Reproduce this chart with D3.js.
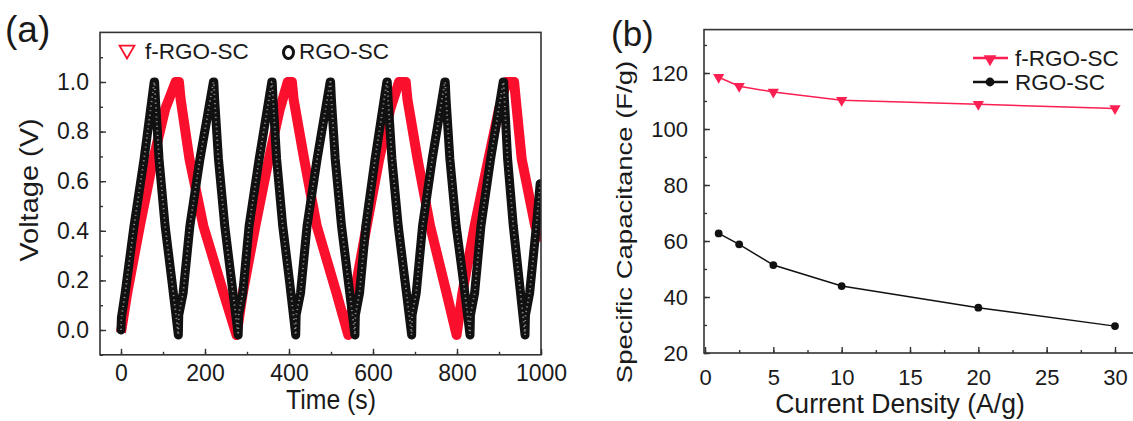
<!DOCTYPE html>
<html>
<head>
<meta charset="utf-8">
<script src="https://cdn.jsdelivr.net/npm/d3@7"></script>
<style>
  body { margin: 0; background: #fff; }
  text { font-family: "Liberation Sans", Arial, sans-serif; fill: #1a1a1a; }
</style>
</head>
<body>
<svg id="fig" width="1133" height="421"></svg>
<script>
// (a) galvanostatic charge/discharge, vertices
var rgoTime = [0, 1, 10, 31, 55, 79, 80, 82, 90.5, 105, 121, 136.5,
  137.5, 148, 164, 188, 220, 221, 223, 232, 247, 263, 279,
  280, 290, 305, 329, 359, 360, 362, 370.5, 385, 401, 416,
  417, 427.5, 443, 467, 498, 499, 501, 510, 525, 541, 557,
  558, 568, 583, 605, 633, 634, 636, 645, 660, 676, 692,
  693, 703, 718, 741, 771, 772, 774, 783, 798, 815, 831,
  832, 842, 857, 880, 910, 911, 913, 920.5, 934, 948, 962,
  963, 973, 989, 998]
var rgoVolt = [0, 0.05, 0.15, 0.42, 0.69, 1.0, 1.0, 0.93, 0.69, 0.42, 0.2, -0.02,
  0.06, 0.15, 0.42, 0.69, 1.0, 1.0, 0.93, 0.69, 0.42, 0.2, -0.02,
  0.06, 0.15, 0.42, 0.69, 1.0, 1.0, 0.93, 0.69, 0.42, 0.2, -0.02,
  0.06, 0.15, 0.42, 0.69, 1.0, 1.0, 0.93, 0.69, 0.42, 0.2, -0.02,
  0.06, 0.15, 0.42, 0.69, 1.0, 1.0, 0.93, 0.69, 0.42, 0.2, -0.02,
  0.06, 0.15, 0.42, 0.69, 1.0, 1.0, 0.93, 0.69, 0.42, 0.2, -0.02,
  0.06, 0.15, 0.42, 0.69, 1.0, 1.0, 0.93, 0.69, 0.42, 0.2, -0.02,
  0.06, 0.15, 0.42, 0.59]

var frgoTime = [0, 15, 45, 77, 105, 130, 138, 142, 163, 196, 244, 275,
  290, 320, 352, 378, 397, 407, 411, 436, 466, 513, 541,
  556, 585, 615, 641, 662, 678, 682, 706, 736, 775, 799,
  813, 842, 875, 900, 918, 936, 940, 954, 986, 1002]
var frgoVolt = [-0.01, 0.15, 0.42, 0.69, 0.89, 1.0, 1.0, 0.93, 0.69, 0.42, 0.15, -0.02,
  0.15, 0.42, 0.69, 0.89, 1.0, 1.0, 0.93, 0.69, 0.42, 0.15, -0.02,
  0.15, 0.42, 0.69, 0.89, 1.0, 1.0, 0.93, 0.69, 0.42, 0.15, -0.02,
  0.15, 0.42, 0.69, 0.89, 1.0, 1.0, 0.93, 0.69, 0.42, 0.36]

var timeTicks = [0, 200, 400, 600, 800, 1000]
var voltTicks = [0.0, 0.2, 0.4, 0.6, 0.8, 1.0]

// (b) specific capacitance vs current density
var density = [1, 2.5, 5, 10, 20, 30]
var capFRGO = [118.5, 115.3, 113.2, 110.3, 108.8, 107.3]
var capRGO = [62.7, 58.8, 51.4, 43.9, 36.2, 29.6]
var densityTicks = [0, 5, 10, 15, 20, 25, 30]
var capTicks = [20, 40, 60, 80, 100, 120]

var seriesNames = ['f-RGO-SC', 'RGO-SC']

svg = d3.select('#fig')
svg.append('rect').attr('width', 1133).attr('height', 421).attr('fill', '#fff')

function styleAxis(g, size){
  g.select('.domain').remove()
  g.selectAll('line').attr('stroke', '#333').attr('stroke-width', 1.4)
  g.selectAll('text').style('font-size', size + 'px').attr('fill', '#1a1a1a')
}

// ---------- panel (a) ----------
xA = d3.scaleLinear().domain([0, 1000]).range([121, 541])
yA = d3.scaleLinear().domain([0, 1]).range([330, 82])
aLeft = xA(-50), aRight = xA(1000), aTop = yA(1.2), aBot = yA(-0.1)

svg.append('clipPath').attr('id', 'clipA').append('rect')
  .attr('x', aLeft).attr('y', aTop).attr('width', aRight - aLeft).attr('height', aBot - aTop)

lineA = d3.line().x(function(d){ return xA(d[0]) }).y(function(d){ return yA(d[1]) })
frgo = frgoTime.map(function(t, i){ return [t, frgoVolt[i]] })
rgo = rgoTime.map(function(t, i){ return [t, rgoVolt[i]] })

plotA = svg.append('g').attr('clip-path', 'url(#clipA)')
plotA.append('path').datum(frgo)
  .attr('d', lineA).attr('fill', 'none')
  .attr('stroke', '#fa0f2d').attr('stroke-width', 10)
  .attr('stroke-linejoin', 'round')
plotA.append('path').datum(rgo)
  .attr('d', lineA).attr('fill', 'none')
  .attr('stroke', '#111').attr('stroke-width', 9)
  .attr('stroke-linejoin', 'round').attr('stroke-linecap', 'round')
// light speckle for the hollow circle markers
plotA.append('path').datum(rgo)
  .attr('d', lineA).attr('fill', 'none')
  .attr('stroke', '#fff').attr('stroke-width', 1.8)
  .attr('stroke-dasharray', '1.2 3.4').attr('opacity', 0.5)

svg.append('g').attr('transform', 'translate(0,' + aBot + ')')
  .call(d3.axisBottom(xA).tickValues(d3.range(0, 1001, 100)).tickSize(-3).tickFormat(''))
  .call(styleAxis, 23)
svg.append('g').attr('transform', 'translate(0,' + aBot + ')')
  .call(d3.axisBottom(xA).tickValues(timeTicks).tickSize(-6).tickPadding(10).tickFormat(d3.format('d')))
  .call(styleAxis, 23)
svg.append('g').attr('transform', 'translate(' + aLeft + ',0)')
  .call(d3.axisLeft(yA).tickValues(d3.range(-0.1, 1.15, 0.1)).tickSize(-3).tickFormat(''))
  .call(styleAxis, 23)
svg.append('g').attr('transform', 'translate(' + aLeft + ',0)')
  .call(d3.axisLeft(yA).tickValues(voltTicks).tickSize(-6).tickPadding(11).tickFormat(d3.format('.1f')))
  .call(styleAxis, 23)

svg.append('rect').attr('x', aLeft).attr('y', aTop)
  .attr('width', aRight - aLeft).attr('height', aBot - aTop)
  .attr('fill', 'none').attr('stroke', '#333').attr('stroke-width', 1.6)

svg.append('text').attr('transform', 'translate(331,409) scale(0.92,1)')
  .attr('text-anchor', 'middle').style('font-size', '27px').text('Time (s)')
svg.append('text').attr('transform', 'translate(37.5,190) scale(0.86,1) rotate(-90)')
  .attr('text-anchor', 'middle').style('font-size', '29px').text('Voltage (V)')
svg.append('text').attr('x', 5).attr('y', 42).style('font-size', '37px').text('(a)')

// legend (a)
svg.append('path').attr('d', d3.symbol().type(d3.symbolTriangle).size(95))
  .attr('transform', 'translate(127,50) rotate(180)')
  .attr('fill', 'none').attr('stroke', '#fa0f2d').attr('stroke-width', 1.8)
svg.append('text').attr('x', 145).attr('y', 59).style('font-size', '22.5px').text(seriesNames[0])
svg.append('ellipse').attr('cx', 288.5).attr('cy', 52.5).attr('rx', 5).attr('ry', 6)
  .attr('fill', 'none').attr('stroke', '#111').attr('stroke-width', 3)
svg.append('text').attr('x', 299).attr('y', 59).style('font-size', '22.5px').text(seriesNames[1])

// ---------- panel (b) ----------
xB = d3.scaleLinear().domain([0, 30]).range([705, 1115])
yB = d3.scaleLinear().domain([20, 120]).range([353, 73])
bLeft = 704, bRight = 1150, bTop = yB(135.5), bBot = yB(20)

svg.append('g').attr('transform', 'translate(0,' + bBot + ')')
  .call(d3.axisBottom(xB).tickValues(d3.range(0, 32.6, 2.5)).tickSize(-3).tickFormat(''))
  .call(styleAxis, 22)
svg.append('g').attr('transform', 'translate(0,' + bBot + ')')
  .call(d3.axisBottom(xB).tickValues(densityTicks).tickSize(-6).tickPadding(16).tickFormat(d3.format('d')))
  .call(styleAxis, 22)
svg.append('g').attr('transform', 'translate(' + bLeft + ',0)')
  .call(d3.axisLeft(yB).tickValues(d3.range(20, 131, 10)).tickSize(-3).tickFormat(''))
  .call(styleAxis, 22)
svg.append('g').attr('transform', 'translate(' + bLeft + ',0)')
  .call(d3.axisLeft(yB).tickValues(capTicks).tickSize(-6).tickPadding(16).tickFormat(d3.format('d')))
  .call(styleAxis, 22)

svg.append('rect').attr('x', bLeft).attr('y', bTop)
  .attr('width', bRight - bLeft).attr('height', bBot - bTop)
  .attr('fill', 'none').attr('stroke', '#333').attr('stroke-width', 1.6)

lineB = d3.line().x(function(d){ return xB(d[0]) }).y(function(d){ return yB(d[1]) })
fPts = density.map(function(x, i){ return [x, capFRGO[i]] })
rPts = density.map(function(x, i){ return [x, capRGO[i]] })

svg.append('path').datum(fPts).attr('d', lineB)
  .attr('fill', 'none').attr('stroke', '#fc1f52').attr('stroke-width', 1.5)
svg.append('path').datum(rPts).attr('d', lineB)
  .attr('fill', 'none').attr('stroke', '#111').attr('stroke-width', 1.5)

triDown = d3.symbol().type(d3.symbolTriangle).size(55)
svg.selectAll('.fpt').data(fPts).enter().append('path')
  .attr('class', 'fpt').attr('d', triDown)
  .attr('transform', function(d){ return 'translate(' + xB(d[0]) + ',' + yB(d[1]) + ') rotate(180)' })
  .attr('fill', '#fc1f52')
svg.selectAll('.rpt').data(rPts).enter().append('circle')
  .attr('class', 'rpt').attr('r', 3.9)
  .attr('cx', function(d){ return xB(d[0]) }).attr('cy', function(d){ return yB(d[1]) })
  .attr('fill', '#111')

svg.append('text').attr('transform', 'translate(900,413) scale(0.95,1)')
  .attr('text-anchor', 'middle').style('font-size', '28px').text('Current Density (A/g)')
svg.append('text').attr('transform', 'translate(632,222) scale(0.8,1) rotate(-90)')
  .attr('text-anchor', 'middle').style('font-size', '27.5px').text('Specific Capacitance (F/g)')
svg.append('text').attr('x', 611).attr('y', 45.5).style('font-size', '35px').text('(b)')

// legend (b)
legB = [{name: seriesNames[0], color: '#fc1f52', y: 58}, {name: seriesNames[1], color: '#111', y: 82}]
legB.forEach(function(l, i){
  svg.append('line').attr('x1', 973).attr('x2', 1008).attr('y1', l.y).attr('y2', l.y)
    .attr('stroke', l.color).attr('stroke-width', 2.4)
  if(i == 0){
    svg.append('path').attr('d', d3.symbol().type(d3.symbolTriangle).size(70))
      .attr('transform', 'translate(990,' + (l.y + 1) + ') rotate(180)').attr('fill', l.color)
  }else{
    svg.append('circle').attr('cx', 990).attr('cy', l.y).attr('r', 4.4).attr('fill', l.color)
  }
  svg.append('text').attr('x', 1015).attr('y', l.y + 8).style('font-size', '22.5px').text(l.name)
})
</script>
</body>
</html>
